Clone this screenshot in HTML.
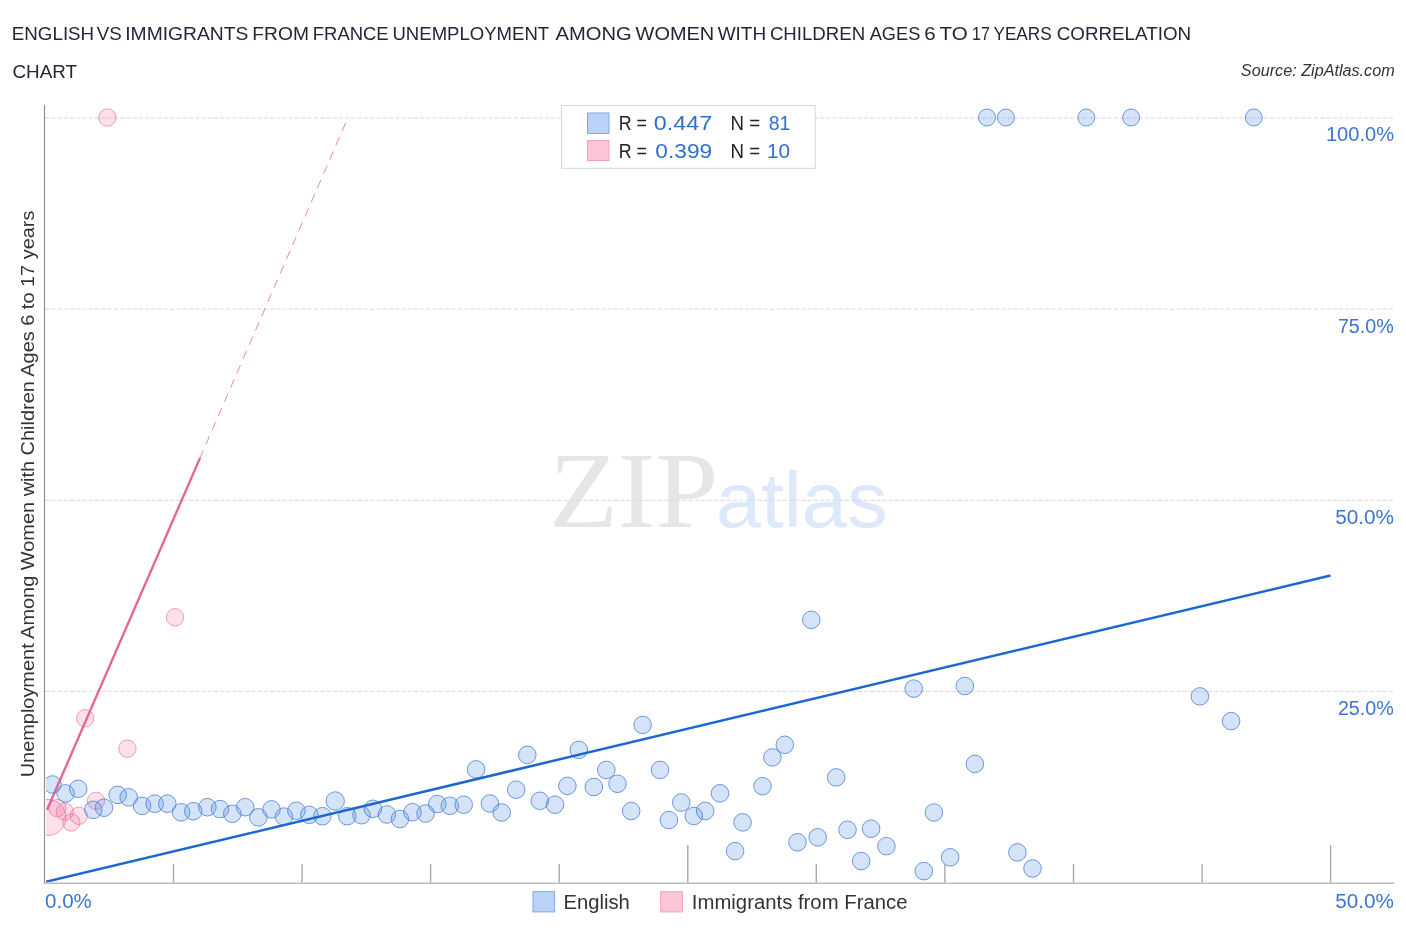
<!DOCTYPE html>
<html lang="en"><head><meta charset="utf-8"><title>English vs Immigrants from France Unemployment Among Women with Children Ages 6 to 17 years Correlation Chart</title>
<style>
html,body{margin:0;padding:0;background:#fff;}
body{width:1406px;height:930px;overflow:hidden;}
svg{display:block;}
text{font-family:"Liberation Sans",sans-serif;}
.t{font-size:19.2px;fill:#25253a;}
.src{font-size:15.6px;font-style:italic;fill:#333;}
.ax{font-size:19.6px;fill:#3a76d2;}
.lg{font-size:20px;fill:#222;}
.lv{font-size:20px;fill:#2f6fd0;}
.bl{font-size:19.6px;fill:#333;}
</style></head><body>
<svg width="1406" height="930" viewBox="0 0 1406 930">
<rect width="1406" height="930" fill="#fff"/>
<g id="watermark"><text x="548.9" y="527.3" font-size="108.7" style="font-family:'Liberation Serif',serif" fill="#e6e6e6" textLength="169.4" lengthAdjust="spacingAndGlyphs">ZIP</text><text x="716" y="527.3" font-size="78" fill="#dde8fa" textLength="171.5" lengthAdjust="spacingAndGlyphs">atlas</text></g>
<g id="grid" stroke="#d9d9d9" stroke-width="1" stroke-dasharray="4.4 1.85" fill="none"><line x1="45" x2="1394" y1="691.38" y2="691.38"/><line x1="45" x2="1394" y1="500.25" y2="500.25"/><line x1="45" x2="1394" y1="309.12" y2="309.12"/><line x1="45" x2="1394" y1="118.00" y2="118.00"/></g>
<rect x="561.5" y="105.5" width="253.7" height="62.8" fill="#fff" stroke="#d6d6d6" stroke-width="1"/><g id="labels"><text id="t0" class="t" x="11.81" y="39.9" textLength="82.39" lengthAdjust="spacingAndGlyphs">ENGLISH</text>
<text id="t1" class="t" x="96.75" y="39.9" textLength="25.04" lengthAdjust="spacingAndGlyphs">VS</text>
<text id="t2" class="t" x="125.22" y="39.9" textLength="123.14" lengthAdjust="spacingAndGlyphs">IMMIGRANTS</text>
<text id="t3" class="t" x="252.37" y="39.9" textLength="56.63" lengthAdjust="spacingAndGlyphs">FROM</text>
<text id="t4" class="t" x="312.82" y="39.9" textLength="75.80" lengthAdjust="spacingAndGlyphs">FRANCE</text>
<text id="t5" class="t" x="392.48" y="39.9" textLength="156.71" lengthAdjust="spacingAndGlyphs">UNEMPLOYMENT</text>
<text id="t6" class="t" x="555.50" y="39.9" textLength="76.17" lengthAdjust="spacingAndGlyphs">AMONG</text>
<text id="t7" class="t" x="635.59" y="39.9" textLength="78.65" lengthAdjust="spacingAndGlyphs">WOMEN</text>
<text id="t8" class="t" x="717.64" y="39.9" textLength="48.51" lengthAdjust="spacingAndGlyphs">WITH</text>
<text id="t9" class="t" x="769.89" y="39.9" textLength="95.29" lengthAdjust="spacingAndGlyphs">CHILDREN</text>
<text id="t10" class="t" x="869.65" y="39.9" textLength="50.71" lengthAdjust="spacingAndGlyphs">AGES</text>
<text id="t11" class="t" x="924.38" y="39.9" textLength="11.40" lengthAdjust="spacingAndGlyphs">6</text>
<text id="t12" class="t" x="939.54" y="39.9" textLength="28.25" lengthAdjust="spacingAndGlyphs">TO</text>
<text id="t13" class="t" x="971.97" y="39.9" textLength="17.88" lengthAdjust="spacingAndGlyphs">17</text>
<text id="t14" class="t" x="993.44" y="39.9" textLength="58.22" lengthAdjust="spacingAndGlyphs">YEARS</text>
<text id="t15" class="t" x="1056.69" y="39.9" textLength="134.43" lengthAdjust="spacingAndGlyphs">CORRELATION</text>
<text id="t16" class="t" x="12.48" y="77.6" textLength="64.53" lengthAdjust="spacingAndGlyphs">CHART</text>
<text id="src" class="src" x="1240.89" y="76.3" textLength="153.82" lengthAdjust="spacingAndGlyphs">Source: ZipAtlas.com</text>
<text id="y100" class="ax" x="1325.95" y="141.0" textLength="68.17" lengthAdjust="spacingAndGlyphs">100.0%</text>
<text id="y75" class="ax" x="1337.88" y="332.9" textLength="55.88" lengthAdjust="spacingAndGlyphs">75.0%</text>
<text id="y50" class="ax" x="1335.23" y="523.8" textLength="58.85" lengthAdjust="spacingAndGlyphs">50.0%</text>
<text id="y25" class="ax" x="1337.88" y="714.9" textLength="55.88" lengthAdjust="spacingAndGlyphs">25.0%</text>
<text id="x0" class="ax" x="45.08" y="908.0" textLength="46.78" lengthAdjust="spacingAndGlyphs">0.0%</text>
<text id="x50" class="ax" x="1335.27" y="908.0" textLength="58.73" lengthAdjust="spacingAndGlyphs">50.0%</text>
<text id="lr1" class="lg" x="618.80" y="129.8" textLength="28.24" lengthAdjust="spacingAndGlyphs">R =</text>
<text id="lv1" class="lv" x="653.73" y="129.8" textLength="58.41" lengthAdjust="spacingAndGlyphs">0.447</text>
<text id="ln1" class="lg" x="730.60" y="129.8" textLength="29.59" lengthAdjust="spacingAndGlyphs">N =</text>
<text id="lc1" class="lv" x="768.75" y="129.8" textLength="21.59" lengthAdjust="spacingAndGlyphs">81</text>
<text id="lr2" class="lg" x="618.80" y="157.6" textLength="28.24" lengthAdjust="spacingAndGlyphs">R =</text>
<text id="lv2" class="lv" x="655.37" y="157.6" textLength="56.76" lengthAdjust="spacingAndGlyphs">0.399</text>
<text id="ln2" class="lg" x="730.60" y="157.6" textLength="29.59" lengthAdjust="spacingAndGlyphs">N =</text>
<text id="lc2" class="lv" x="767.10" y="157.6" textLength="23.05" lengthAdjust="spacingAndGlyphs">10</text>
<text id="b1" class="bl" x="563.55" y="908.8" textLength="66.30" lengthAdjust="spacingAndGlyphs">English</text>
<text id="b2" class="bl" x="691.88" y="908.8" textLength="215.57" lengthAdjust="spacingAndGlyphs">Immigrants from France</text>
</g>
<text transform="translate(34.2 777.35) rotate(-90)" font-size="18.3" fill="#333" textLength="566.8" lengthAdjust="spacingAndGlyphs">Unemployment Among Women with Children Ages 6 to 17 years</text>
<defs><clipPath id="plot"><rect x="46" y="100" width="1348" height="782.4"/></clipPath></defs>
<g clip-path="url(#plot)"><g id="france" fill="rgba(245,100,150,0.2)" stroke="rgba(230,105,148,0.62)" stroke-width="1"><circle cx="48.0" cy="817.4" r="18.0"/><circle cx="57.2" cy="808.1" r="8.7"/><circle cx="64.8" cy="811.6" r="8.7"/><circle cx="71.4" cy="822.5" r="8.7"/><circle cx="78.8" cy="815.8" r="8.7"/><circle cx="96.0" cy="800.8" r="8.7"/><circle cx="107.4" cy="117.5" r="8.7"/><circle cx="175.0" cy="617.3" r="8.7"/><circle cx="85.2" cy="718.3" r="8.7"/><circle cx="127.4" cy="748.7" r="8.7"/></g>
<g id="english" fill="rgba(92,145,232,0.26)" stroke="rgba(72,125,210,0.78)" stroke-width="1"><circle cx="52.5" cy="784.5" r="8.8"/><circle cx="65.6" cy="793.4" r="8.8"/><circle cx="78.2" cy="788.8" r="8.8"/><circle cx="93.3" cy="809.8" r="8.8"/><circle cx="104.0" cy="807.7" r="8.8"/><circle cx="117.7" cy="794.9" r="8.8"/><circle cx="128.7" cy="797.3" r="8.8"/><circle cx="142.1" cy="805.9" r="8.8"/><circle cx="154.7" cy="803.7" r="8.8"/><circle cx="167.3" cy="803.7" r="8.8"/><circle cx="181.1" cy="812.3" r="8.8"/><circle cx="193.3" cy="811.2" r="8.8"/><circle cx="207.4" cy="807.2" r="8.8"/><circle cx="220.0" cy="809.1" r="8.8"/><circle cx="232.3" cy="813.8" r="8.8"/><circle cx="245.2" cy="807.2" r="8.8"/><circle cx="258.4" cy="817.3" r="8.8"/><circle cx="271.5" cy="809.4" r="8.8"/><circle cx="284.0" cy="816.6" r="8.8"/><circle cx="296.4" cy="810.8" r="8.8"/><circle cx="309.3" cy="814.8" r="8.8"/><circle cx="322.4" cy="816.2" r="8.8"/><circle cx="335.2" cy="801.0" r="9.2"/><circle cx="347.3" cy="816.2" r="8.8"/><circle cx="361.5" cy="815.2" r="8.8"/><circle cx="372.9" cy="808.8" r="8.8"/><circle cx="386.9" cy="814.5" r="8.8"/><circle cx="399.9" cy="819.0" r="8.8"/><circle cx="412.5" cy="812.2" r="8.8"/><circle cx="425.6" cy="813.5" r="8.8"/><circle cx="437.3" cy="804.0" r="8.8"/><circle cx="449.8" cy="805.8" r="8.8"/><circle cx="463.7" cy="804.7" r="8.8"/><circle cx="476.1" cy="769.4" r="8.8"/><circle cx="489.9" cy="803.5" r="8.8"/><circle cx="501.7" cy="812.5" r="8.8"/><circle cx="516.2" cy="789.7" r="8.8"/><circle cx="527.3" cy="754.9" r="8.8"/><circle cx="539.8" cy="800.8" r="8.8"/><circle cx="555.0" cy="804.7" r="8.8"/><circle cx="567.4" cy="785.9" r="8.8"/><circle cx="578.8" cy="749.9" r="8.8"/><circle cx="593.8" cy="787.0" r="8.8"/><circle cx="606.3" cy="769.9" r="8.8"/><circle cx="642.6" cy="724.9" r="8.8"/><circle cx="660.0" cy="769.9" r="8.8"/><circle cx="617.5" cy="783.8" r="8.8"/><circle cx="720.0" cy="793.3" r="8.8"/><circle cx="762.5" cy="786.2" r="8.8"/><circle cx="772.4" cy="757.4" r="8.8"/><circle cx="784.8" cy="744.8" r="8.8"/><circle cx="631.2" cy="811.0" r="8.8"/><circle cx="668.9" cy="820.1" r="8.8"/><circle cx="681.3" cy="802.5" r="8.8"/><circle cx="693.8" cy="816.0" r="8.8"/><circle cx="705.2" cy="811.0" r="8.8"/><circle cx="742.6" cy="822.4" r="8.8"/><circle cx="735.1" cy="851.1" r="8.8"/><circle cx="797.5" cy="842.3" r="8.8"/><circle cx="817.7" cy="837.3" r="8.8"/><circle cx="847.5" cy="829.8" r="8.8"/><circle cx="871.1" cy="828.7" r="8.8"/><circle cx="886.4" cy="846.2" r="8.8"/><circle cx="861.2" cy="861.1" r="8.8"/><circle cx="933.9" cy="812.5" r="8.8"/><circle cx="923.8" cy="871.1" r="8.8"/><circle cx="950.2" cy="857.3" r="8.8"/><circle cx="836.2" cy="777.4" r="8.8"/><circle cx="811.3" cy="619.8" r="8.8"/><circle cx="913.7" cy="688.6" r="8.8"/><circle cx="964.8" cy="686.0" r="8.8"/><circle cx="974.9" cy="763.9" r="8.8"/><circle cx="1017.4" cy="852.4" r="8.8"/><circle cx="1032.5" cy="868.5" r="8.8"/><circle cx="1199.9" cy="696.4" r="8.8"/><circle cx="1231.1" cy="721.1" r="8.8"/><circle cx="987.0" cy="117.5" r="8.5"/><circle cx="1005.9" cy="117.5" r="8.5"/><circle cx="1086.3" cy="117.5" r="8.5"/><circle cx="1131.1" cy="117.5" r="8.5"/><circle cx="1253.8" cy="117.5" r="8.5"/></g>
<line x1="45" y1="882" x2="1330.5" y2="575.5" stroke="#1c68cf" stroke-width="2.5"/><line x1="47.1" y1="809.7" x2="200.2" y2="457.6" stroke="#e2588c" stroke-opacity="0.92" stroke-width="2.35"/><line x1="200.2" y1="457.6" x2="347.8" y2="118" stroke="#e35f90" stroke-opacity="0.75" stroke-width="1" stroke-dasharray="8.9 6.64" stroke-dashoffset="1.3"/></g>
<g id="axes" stroke="#a8a8a8" fill="none"><line x1="44.5" y1="105" x2="44.5" y2="884" stroke-width="1.15" stroke="#8e8e8e"/><line x1="43.8" y1="883.2" x2="1394" y2="883.2" stroke-width="1.6" stroke="#bcbcbc"/><line x1="173.5" x2="173.5" y1="864" y2="882.6" stroke-width="1.4"/><line x1="302.1" x2="302.1" y1="864" y2="882.6" stroke-width="1.4"/><line x1="430.6" x2="430.6" y1="864" y2="882.6" stroke-width="1.4"/><line x1="559.2" x2="559.2" y1="864" y2="882.6" stroke-width="1.4"/><line x1="687.8" x2="687.8" y1="845" y2="882.6" stroke-width="1.4"/><line x1="816.3" x2="816.3" y1="864" y2="882.6" stroke-width="1.4"/><line x1="944.9" x2="944.9" y1="864" y2="882.6" stroke-width="1.4"/><line x1="1073.5" x2="1073.5" y1="864" y2="882.6" stroke-width="1.4"/><line x1="1202.1" x2="1202.1" y1="864" y2="882.6" stroke-width="1.4"/><line x1="1330.6" x2="1330.6" y1="845" y2="882.6" stroke-width="1.4"/></g>
<g id="legend-top"><rect x="587.5" y="113" width="21.5" height="20.5" fill="#b9d2f6" stroke="#7fa9ea" stroke-width="1"/><rect x="587.5" y="140.5" width="21.5" height="20" fill="#fcc6d6" stroke="#f2a0b8" stroke-width="1"/></g>
<g id="legend-bottom"><rect x="533" y="891.7" width="21.6" height="20.2" fill="#b9d2f6" stroke="#7fa9ea" stroke-width="1"/><rect x="660.7" y="891.7" width="21.6" height="20.2" fill="#fcc6d6" stroke="#f2a0b8" stroke-width="1"/></g>
</svg>
</body></html>
